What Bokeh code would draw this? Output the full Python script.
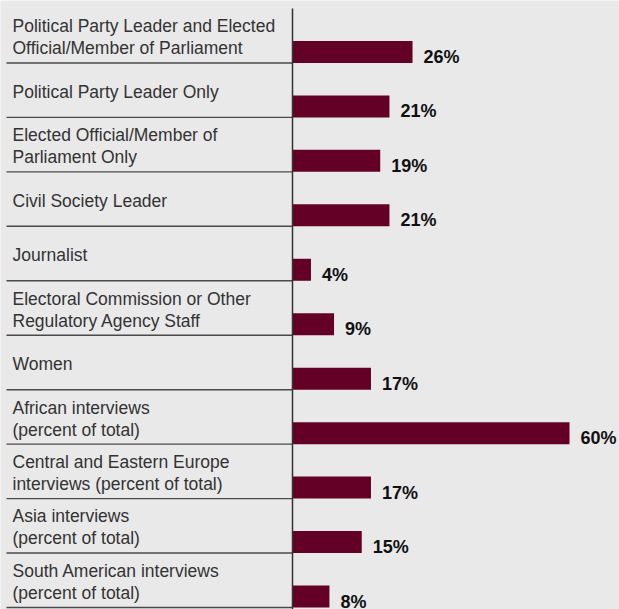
from bokeh.plotting import figure
from bokeh.models import Range1d, ColumnDataSource
from bokeh.core.properties import value
from bokeh.embed import file_html
from bokeh.resources import INLINE

# ---- data ----
categories = [
    "Political Party Leader and Elected\nOfficial/Member of Parliament",
    "Political Party Leader Only",
    "Elected Official/Member of\nParliament Only",
    "Civil Society Leader",
    "Journalist",
    "Electoral Commission or Other\nRegulatory Agency Staff",
    "Women",
    "African interviews\n(percent of total)",
    "Central and Eastern Europe\ninterviews (percent of total)",
    "Asia interviews\n(percent of total)",
    "South American interviews\n(percent of total)",
]
values = [26, 21, 19, 21, 4, 9, 17, 60, 17, 15, 8]
value_labels = [f"{v}%" for v in values]

# ---- layout constants (pixels) ----
W, H = 619, 609
AXIS_PX = 292.0          # pixel x of the value axis
PX_PER_UNIT = 277.0 / 60  # pixels per percentage point
TOP_PX = 8.0              # pixel y of first row top
ROW_PX = (607.0 - TOP_PX) / len(categories)

x_start = -AXIS_PX / PX_PER_UNIT
x_end = (W - AXIS_PX) / PX_PER_UNIT
y_top = -TOP_PX / ROW_PX
y_bottom = len(categories) + (H - 607.0) / ROW_PX

def px_to_x(px):
    return (px - AXIS_PX) / PX_PER_UNIT

n = len(categories)
rows = list(range(n))
bar_h = 22.0 / ROW_PX

src = ColumnDataSource(dict(
    row=rows,
    bar_y=[r + 1 - bar_h / 2 for r in rows],
    bar_base=[r + 1 for r in rows],
    label_y=[r + 0.53 for r in rows],
    val=values,
    vlab=value_labels,
    cat=categories,
    sep_x0=[px_to_x(6)] * n,
    sep_x1=[0] * n,
))

p = figure(width=W, height=H, output_backend="svg", toolbar_location=None,
           x_range=Range1d(x_start, x_end), y_range=Range1d(y_bottom, y_top),
           x_axis_type=None, y_axis_type=None, min_border=0,
           background_fill_color="#e9e9e9", border_fill_color="#e9e9e9",
           outline_line_color=None)
p.grid.visible = False

# bars
p.hbar(y="bar_y", left=0, right="val", height=bar_h, source=src,
       fill_color="#640026", line_color=None)

# separators under each category
p.segment(x0="sep_x0", y0="bar_base", x1="sep_x1", y1="bar_base", source=src,
          line_color="#4a4a4a", line_width=1.4)

# vertical axis line
p.segment(x0=[0], y0=[0], x1=[0], y1=[y_bottom], line_color="#333333", line_width=1.5)

# category labels
p.text(x=px_to_x(12), y="label_y", text="cat", source=src,
       text_font=value("Liberation Sans"), text_font_size="17.5px",
       text_color="#333333", text_baseline="middle", text_align="left",
       text_line_height=1.1)

# value labels
p.text(x="val", y="bar_base", text="vlab", source=src, x_offset=11, y_offset=-6,
       text_font=value("Liberation Sans"), text_font_size="18px",
       text_font_style="bold", text_color="#111111",
       text_baseline="alphabetic", text_align="left")

open("out.html", "w").write(file_html(p, INLINE))
